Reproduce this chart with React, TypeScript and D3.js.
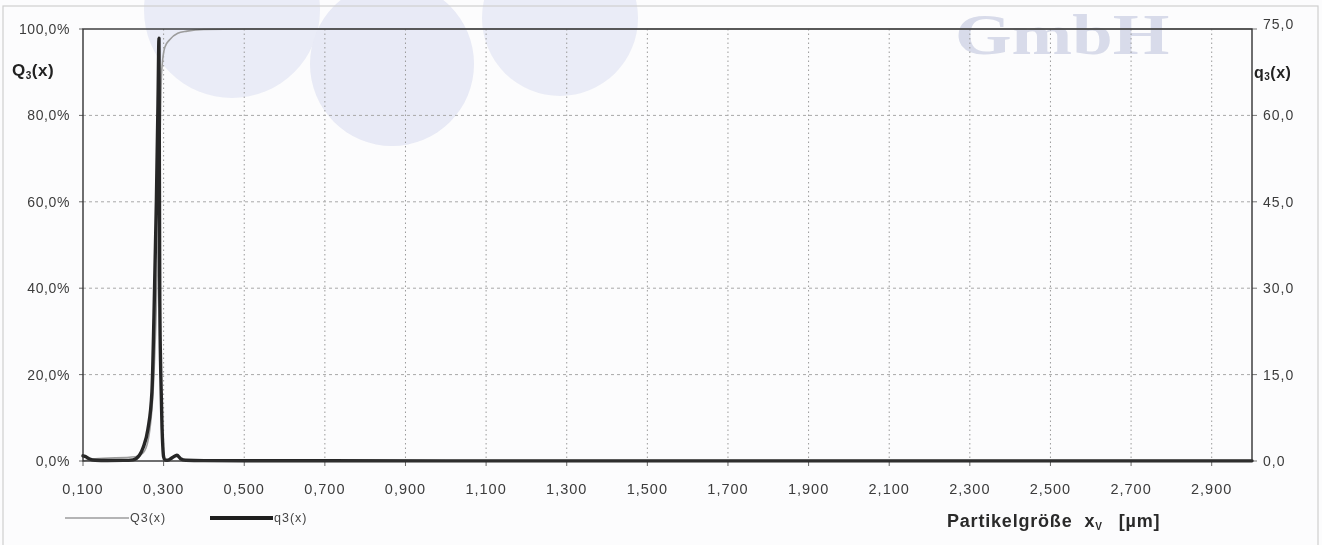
import React from "react";
import * as d3 from "d3";

// ---- data ----
const xTickValues = [0.1, 0.3, 0.5, 0.7, 0.9, 1.1, 1.3, 1.5, 1.7, 1.9, 2.1, 2.3, 2.5, 2.7, 2.9];
const leftTickValues = [0, 20, 40, 60, 80, 100];
const rightTickValues = [0, 15, 30, 45, 60, 75];

// q3(x) density (right axis)
const q3X = [0.1, 0.105, 0.115, 0.13, 0.16, 0.2, 0.224, 0.24, 0.249, 0.261, 0.271, 0.276, 0.282, 0.286, 0.2885, 0.2895, 0.2905, 0.293, 0.296, 0.298, 0.3, 0.303, 0.31, 0.322, 0.333, 0.342, 0.355, 0.4, 0.5, 1.0, 2.0, 3.0];
const q3Y = [0.9, 0.8, 0.4, 0.12, 0.08, 0.1, 0.2, 1.0, 2.3, 5.5, 12, 25, 45, 62, 73.4, 50, 28, 15, 6, 2.5, 0.7, 0.2, 0.12, 0.6, 1.0, 0.4, 0.12, 0.06, 0.04, 0.03, 0.03, 0.03];

// Q3(x) cumulative (left axis, %)
const Q3X = [0.1, 0.13, 0.23, 0.25, 0.262, 0.276, 0.2885, 0.295, 0.303, 0.315, 0.335, 0.358, 0.4, 0.5, 1.0, 3.0];
const Q3Y = [0, 0.5, 1, 2, 5, 20, 60, 90, 95.8, 97.5, 99, 99.5, 99.9, 100, 100, 100];

const leftLabel = "Q";
const rightLabel = "q";
const xTitle = "Partikelgröße";

const W = 1322;
const H = 545;
const PL = 83, PR = 1252, PT = 29, PB = 461;

export default function App() {
  const x = d3.scaleLinear().domain([0.1, 3.0]).range([PL, PR]);
  const yL = d3.scaleLinear().domain([0, 100]).range([PB, PT]);
  const yR = d3.scaleLinear().domain([0, 75]).range([PB, PT]);

  const q3Data = q3X.map((v, i) => [v, q3Y[i]] as [number, number]);
  const Q3Data = Q3X.map((v, i) => [v, Q3Y[i]] as [number, number]);

  const q3Line = d3
    .line<[number, number]>()
    .x((d) => x(d[0]))
    .y((d) => yR(d[1]))
    .curve(d3.curveMonotoneX);
  const Q3Line = d3
    .line<[number, number]>()
    .x((d) => x(d[0]))
    .y((d) => yL(d[1]))
    .curve(d3.curveMonotoneX);

  const fmtX = (v: number) => d3.format(".3f")(v).replace(".", ",");
  const fmtL = (v: number) => d3.format(".1f")(v).replace(".", ",") + "%";
  const fmtR = (v: number) => d3.format(".1f")(v).replace(".", ",");

  const font = "'Liberation Sans', Arial, sans-serif";
  const tickColor = "#3c3c3c";

  return (
    <div style={{ position: "fixed", left: 0, top: 0, width: W, height: H, background: "#fff" }}>
      <svg width={W} height={H} style={{ display: "block", fontFamily: font }}>
        <rect x={0} y={0} width={W} height={H} fill="#fcfcfd" />
        {/* faint stamp watermark */}
        <g opacity={0.5}>
          <circle cx={232} cy={10} r={88} fill="#d9ddf0" />
          <circle cx={392} cy={64} r={82} fill="#d4d8ee" />
          <circle cx={560} cy={18} r={78} fill="#d9ddf0" />
          <g transform="translate(955,54) scale(1.3,1)">
            <text x={0} y={0} fontSize={56} fontWeight="bold" fill="#b4bbd6" fontFamily="'Liberation Serif', serif">GmbH</text>
          </g>
        </g>
        {/* outer page frame */}
        <rect x={3} y={6} width={1315} height={560} fill="none" stroke="#cfcfcf" strokeWidth={1.2} />

        {/* grid */}
        {xTickValues.slice(1).map((v) => (
          <line key={"gx" + v} x1={x(v)} x2={x(v)} y1={PT} y2={PB} stroke="#9a9a9a" strokeWidth={1} strokeDasharray="1.5,3" />
        ))}
        {leftTickValues.slice(1, -1).map((v) => (
          <line key={"gy" + v} x1={PL} x2={PR} y1={yL(v)} y2={yL(v)} stroke="#a8a8a8" strokeWidth={1} strokeDasharray="3,3" />
        ))}

        {/* ticks */}
        {xTickValues.map((v) => (
          <line key={"tx" + v} x1={x(v)} x2={x(v)} y1={PB} y2={PB + 5} stroke="#666" strokeWidth={1} />
        ))}
        {leftTickValues.map((v) => (
          <line key={"tl" + v} x1={PL - 4} x2={PL} y1={yL(v)} y2={yL(v)} stroke="#666" strokeWidth={1} />
        ))}
        {rightTickValues.map((v) => (
          <line key={"tr" + v} x1={PR} x2={PR + 5} y1={yR(v)} y2={yR(v)} stroke="#777" strokeWidth={1} />
        ))}

        {/* series */}
        <path d={Q3Line(Q3Data) || ""} fill="none" stroke="#9c9c9c" strokeWidth={1.6} />
        <path d={q3Line(q3Data) || ""} fill="none" stroke="#262626" strokeWidth={3.4} strokeLinejoin="round" strokeLinecap="round" />

        {/* frame */}
        <rect x={PL} y={PT} width={PR - PL} height={PB - PT} fill="none" stroke="#333" strokeWidth={1.4} />

        {/* x tick labels */}
        {xTickValues.map((v) => (
          <text key={"lx" + v} x={x(v)} y={494} fontSize={14.5} letterSpacing={1} fill={tickColor} textAnchor="middle">
            {fmtX(v)}
          </text>
        ))}
        {/* left tick labels */}
        {leftTickValues.map((v) => (
          <text key={"ll" + v} x={70} y={yL(v) + 5} fontSize={14} letterSpacing={0.6} fill={tickColor} textAnchor="end">
            {fmtL(v)}
          </text>
        ))}
        {/* right tick labels */}
        {rightTickValues.map((v) => (
          <text key={"lr" + v} x={1263} y={yR(v) + (v === 75 ? 0 : 5)} fontSize={14} letterSpacing={1} fill={tickColor} textAnchor="start">
            {fmtR(v)}
          </text>
        ))}

        {/* axis titles */}
        <text x={12} y={76} fontSize={17} fontWeight="bold" fill="#222" letterSpacing={0.5}>
          {leftLabel}
          <tspan fontSize={10} dy={3}>3</tspan>
          <tspan dy={-3}>(x)</tspan>
        </text>
        <text x={1254} y={78} fontSize={16} fontWeight="bold" fill="#222" letterSpacing={0.5}>
          {rightLabel}
          <tspan fontSize={10} dy={2}>3</tspan>
          <tspan dy={-2}>(x)</tspan>
        </text>
        <text x={947} y={527} fontSize={18} fontWeight="bold" fill="#2a2a2a" letterSpacing={0.8}>
          {xTitle}
          <tspan dx={12}>x</tspan>
          <tspan fontSize={10} dy={3}>V</tspan>
          <tspan dx={16} dy={-3}>[µm]</tspan>
        </text>

        {/* legend */}
        <line x1={65} x2={129} y1={518} y2={518} stroke="#9c9c9c" strokeWidth={1.6} />
        <text x={130} y={522} fontSize={12.5} letterSpacing={1} fill="#444">Q3(x)</text>
        <line x1={210} x2={273} y1={518} y2={518} stroke="#1e1e1e" strokeWidth={4} />
        <text x={274} y={522} fontSize={12.5} letterSpacing={1} fill="#444">q3(x)</text>
      </svg>
    </div>
  );
}
